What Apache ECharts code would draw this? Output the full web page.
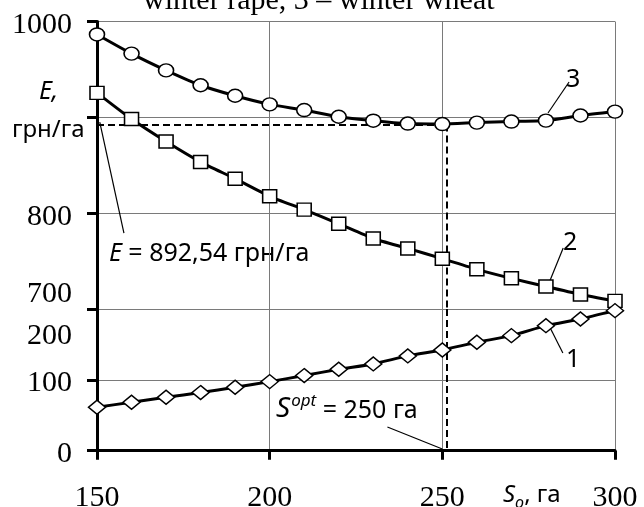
<!DOCTYPE html>
<html>
<head>
<meta charset="utf-8">
<script src="https://cdn.jsdelivr.net/npm/echarts@6/dist/echarts.min.js"></script>
<style>
html, body { margin: 0; padding: 0; background: #fff; }
#main { width: 644px; height: 507px; }
</style>
</head>
<body>
<div id="main"></div>
<script>
// площа S_o, га
var areas = [150, 160, 170, 180, 190, 200, 210, 220, 230, 240, 250, 260, 270, 280, 290, 300];
// 3 - winter wheat (E, грн/га)
var wheatE = [986.5, 966.5, 949, 933.5, 922.5, 913.5, 907.6, 900.6, 896.5, 893.5, 893, 894.5, 895.6, 896.6, 901.9, 906];
// 2 - winter rape
var rapeE = [925.5, 898.2, 874.7, 853.3, 836, 817.6, 803.7, 788.9, 773.6, 763.2, 752.5, 741.4, 732, 723.4, 715.2, 708.5];
// 1 - spring barley (нижня частина осі)
var barleyE = [61.3, 68.4, 75.4, 82, 89.5, 97.5, 106, 115, 122.5, 133.8, 142.2, 153, 162.4, 176.5, 186, 197.7];
var topTicks = [700, 800, 900, 1000];
var bottomTicks = [0, 100, 200];
var xTicks = [150, 200, 250, 300];
var optE = 892.54;   // E = 892,54 грн/га
var optS = 251.3;    // пунктир S_opt

function pairs(ys) {
    return areas.map(function (x, i) { return [x, ys[i]]; });
}

var chart = echarts.init(document.getElementById('main'));

var serif = '"Liberation Serif", "Times New Roman", serif';
var sans = '"Noto Sans", "Open Sans", sans-serif';
var gridColor = '#7a7a7a';

var leader = {
    symbol: ['none', 'none'],
    silent: true,
    animation: false,
    label: { show: false },
    lineStyle: { color: '#000', width: 1.2, type: 'solid' }
};
var dashed = { color: '#000', width: 2, type: [7, 4] };

function xAxisCfg(idx, showAxis) {
    return {
        gridIndex: idx,
        type: 'value',
        min: xTicks[0],
        max: xTicks[xTicks.length - 1],
        interval: 50,
        axisLine: { show: showAxis, onZero: false, lineStyle: { color: '#000', width: 3 } },
        axisTick: { show: showAxis, length: 9, lineStyle: { color: '#000', width: 3 } },
        axisLabel: { show: showAxis, margin: 32, color: '#000', fontFamily: serif, fontSize: 30 },
        splitLine: { show: true, lineStyle: { color: gridColor, width: 1 } }
    };
}

function yAxisCfg(idx, ticks, fmt) {
    return {
        gridIndex: idx,
        type: 'value',
        min: ticks[0],
        max: ticks[ticks.length - 1],
        interval: 100,
        axisLine: { show: true, onZero: false, lineStyle: { color: '#000', width: 3 } },
        axisTick: { show: true, length: 10, lineStyle: { color: '#000', width: 3 } },
        axisLabel: {
            margin: 25, color: '#000', fontFamily: serif, fontSize: 30,
            formatter: fmt,
            rich: {
                n: { fontFamily: serif, fontSize: 30, color: '#000', padding: [7, 0, 0, 0] },
                up: { fontFamily: serif, fontSize: 30, color: '#000', padding: [0, 0, 30, 0] },
                down: { fontFamily: serif, fontSize: 30, color: '#000', padding: [54, 0, 0, 0] }
            }
        },
        splitLine: { show: true, lineStyle: { color: gridColor, width: 1 } }
    };
}

function lineSeries(name, data, symbol, size, xi, yi) {
    return {
        name: name,
        type: 'line',
        xAxisIndex: xi,
        yAxisIndex: yi,
        data: data,
        symbol: symbol,
        symbolSize: size,
        smooth: 0.2,
        clip: false,
        z: 5,
        lineStyle: { color: '#000', width: 3 },
        itemStyle: { color: '#fff', borderColor: '#000', borderWidth: 1.5 }
    };
}

var s3 = lineSeries('3', pairs(wheatE), 'circle', [15, 13], 0, 0);
s3.markLine = Object.assign({}, leader, {
    data: [
        [{ coord: [150, optE], lineStyle: dashed }, { coord: [optS, optE] }],
        [{ coord: [optS, optE], lineStyle: dashed }, { coord: [optS, 700] }],
        [{ coord: [286.7, 936.9] }, { coord: [280.6, 904.5] }],
        [{ coord: [150.8, 895.1] }, { coord: [157.8, 779.3] }]
    ]
});
var s2 = lineSeries('2', pairs(rapeE), 'rect', [14, 13], 0, 0);
s2.markLine = Object.assign({}, leader, {
    data: [
        [{ coord: [285, 763.6] }, { coord: [281, 728.2] }]
    ]
});
var s1 = lineSeries('1', pairs(barleyE), 'diamond', [17, 14], 1, 1);
s1.markLine = Object.assign({}, leader, {
    data: [
        [{ coord: [optS, 200], lineStyle: dashed }, { coord: [optS, 0] }],
        [{ coord: [281.1, 174.6] }, { coord: [284.9, 138] }],
        [{ coord: [234.1, 33.5] }, { coord: [250, 2.4] }]
    ]
});

var option = {
    animation: false,
    backgroundColor: '#fff',
    grid: [
        { left: 97, right: 29, top: 21.5, height: 287.5, outerBoundsMode: 'none', containLabel: false },
        { left: 97, right: 29, top: 309, height: 141.7, outerBoundsMode: 'none', containLabel: false }
    ],
    xAxis: [xAxisCfg(0, false), xAxisCfg(1, true)],
    yAxis: [
        yAxisCfg(0, topTicks, function (v) {
            if (v === 900) return '';
            if (v === 700) return '{up|700}';
            return '{n|' + v + '}';
        }),
        yAxisCfg(1, bottomTicks, function (v) {
            if (v === 200) return '{down|200}';
            return '{n|' + v + '}';
        })
    ],
    series: [s3, s2, s1],
    graphic: [
        { type: 'text', x: 143, y: 16, style: { text: 'winter rape, 3 – winter wheat', font: '30px ' + serif, fill: '#000', verticalAlign: 'bottom' } },
        { type: 'text', x: 39, y: 92, style: { text: 'E,', font: 'italic 25px ' + sans, fill: '#000', verticalAlign: 'middle' } },
        { type: 'text', x: 12, y: 130, style: { text: 'грн/га', font: '24px ' + sans, fill: '#000', verticalAlign: 'middle' } },
        { type: 'text', x: 109, y: 254, style: {
            text: '{i|E} = 892,54 грн/га', fontFamily: sans, fontSize: 25, fill: '#000', verticalAlign: 'middle',
            rich: { i: { fontFamily: sans, fontSize: 25, fontStyle: 'italic' } }
        } },
        { type: 'text', x: 276, y: 408, style: {
            text: '{i|S}{sup|opt}{n| = 250 га}', fill: '#000', verticalAlign: 'middle',
            rich: {
                i: { fontFamily: sans, fontSize: 28, fontStyle: 'italic', lineHeight: 30, verticalAlign: 'bottom' },
                sup: { fontFamily: sans, fontSize: 17, fontStyle: 'italic', lineHeight: 30, verticalAlign: 'top', padding: [0, 0, 0, 1] },
                n: { fontFamily: sans, fontSize: 25, lineHeight: 30, verticalAlign: 'bottom' }
            }
        } },
        { type: 'text', x: 503, y: 497, style: {
            text: '{i|S}{sub|o}{n|, га}', fill: '#000', verticalAlign: 'middle',
            rich: {
                i: { fontFamily: sans, fontSize: 24, fontStyle: 'italic', lineHeight: 28, verticalAlign: 'top' },
                sub: { fontFamily: sans, fontSize: 16, fontStyle: 'italic', lineHeight: 28, verticalAlign: 'bottom' },
                n: { fontFamily: sans, fontSize: 24, lineHeight: 28, verticalAlign: 'top' }
            }
        } },
        { type: 'text', x: 566, y: 80, style: { text: '3', font: '25px ' + sans, fill: '#000', verticalAlign: 'middle' } },
        { type: 'text', x: 563, y: 243, style: { text: '2', font: '25px ' + sans, fill: '#000', verticalAlign: 'middle' } },
        { type: 'text', x: 566, y: 360, style: { text: '1', font: '25px ' + sans, fill: '#000', verticalAlign: 'middle' } }
    ]
};

chart.setOption(option);
</script>
</body>
</html>
